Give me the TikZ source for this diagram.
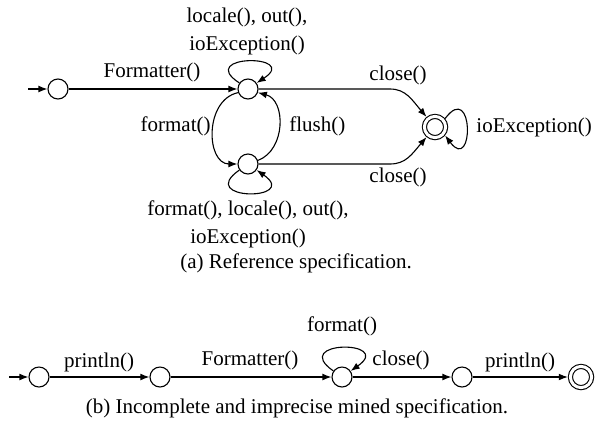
\documentclass[tikz,border=0pt]{standalone}
\usepackage{fontspec}
\setmainfont{Liberation Serif}
\usetikzlibrary{arrows.meta}
\begin{document}
\begin{tikzpicture}[x=0.5pt,y=0.5pt,
  every node/.style={font=\fontsize{10.5}{13.75}\selectfont},
  st/.style={draw,circle,minimum size=10pt,inner sep=0pt,line width=0.55pt},
  acc/.style={draw,circle,double,double distance=1.5pt,minimum size=10.6pt,inner sep=0pt,line width=0.55pt,outer sep=1.3pt},
  tr/.style={-{Latex[length=4.5pt,width=3.4pt]},line width=0.55pt},
  lbl/.style={inner sep=0pt,align=center}]
\useasboundingbox (0,0) rectangle (597,-429);
% (a)
\coordinate (s) at (28,-89);
\node[st] (s0) at (58,-89) {};
\node[st] (A) at (248,-89) {};
\node[st] (B) at (248,-164) {};
\node[acc] (F) at (435,-127) {};
\draw[tr] (s) -- (s0);
\draw[tr] (s0) -- (A);
\node[lbl] (lform) at (152,-72) {Formatter()};
\draw[tr] (A.145) .. controls (195,-54) and (301,-54) .. (A.35);
\node[lbl] (lA) at (247,-31.5) {locale(), out(),\\ioException()};
\draw[tr] (A.200) .. controls (204,-100) and (206,-164) .. (B.west);
\node[lbl,anchor=east] (lfmt) at (211,-126) {format()};
\draw[tr] (B.20) .. controls (286,-150) and (286,-100) .. (A.340);
\node[lbl,anchor=west] (lfl) at (289,-126) {flush()};
\draw[tr] (B.215) .. controls (195,-201) and (301,-201) .. (B.325);
\node[lbl] (lB) at (248,-224.5) {format(), locale(), out(),\\ioException()};
\draw[tr] (A.east) -- (390,-89) .. controls (406,-89) and (412,-100) .. (F.130);
\node[lbl] (lc1) at (398,-75) {close()};
\draw[tr] (B.east) -- (390,-164) .. controls (406,-164) and (412,-154) .. (F.230);
\node[lbl] (lc2) at (398,-177) {close()};
\draw[tr] (F.40) .. controls (474,-80) and (474,-174) .. (F.-40);
\node[lbl,anchor=west] (lio) at (476,-127) {ioException()};
\node[lbl] (capa) at (296,-263) {(a) Reference specification.};
% (b)
\coordinate (t) at (9,-377);
\node[st] (b1) at (39,-377) {};
\node[st] (b2) at (160,-377) {};
\node[st] (b3) at (342,-377) {};
\node[st] (b4) at (462,-377) {};
\node[acc] (b5) at (581,-377) {};
\draw[tr] (t) -- (b1);
\draw[tr] (b1) -- (b2);
\node[lbl] (lp1) at (99,-362) {println()};
\draw[tr] (b2) -- (b3);
\node[lbl] (lf2) at (250,-360) {Formatter()};
\draw[tr] (b3.145) .. controls (289,-340) and (395,-340) .. (b3.35);
\node[lbl] (lfm2) at (342,-326) {format()};
\draw[tr] (b3) -- (b4);
\node[lbl] (lc3) at (401,-360) {close()};
\draw[tr] (b4) -- (b5);
\node[lbl] (lp2) at (520,-362) {println()};
\node[lbl] (capb) at (297,-408) {(b) Incomplete and imprecise mined specification.};
\end{tikzpicture}
\end{document}
